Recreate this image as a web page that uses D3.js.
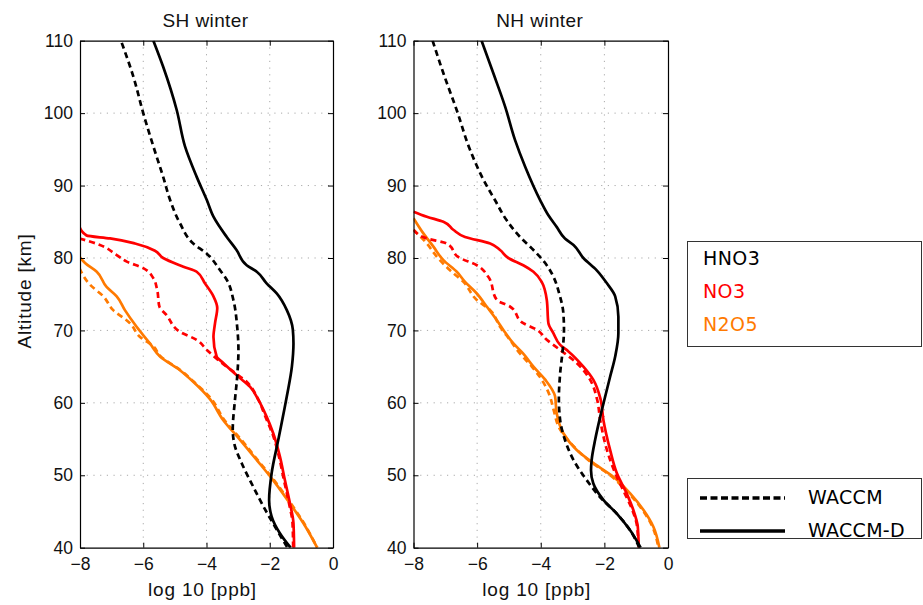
<!DOCTYPE html>
<html><head><meta charset="utf-8">
<script src="https://cdn.jsdelivr.net/npm/d3@7"></script>
<style>body{margin:0;background:#fff}svg{display:block}</style>
</head><body>
<svg id="c" width="923" height="605"></svg>
<script>
// ---- data ----
const panels = ["SH winter", "NH winter"];
const species = ["HNO3", "NO3", "N2O5"];
const speciesColors = ["#000000", "#ff0000", "#ff7a00"];
const models = ["WACCM", "WACCM-D"];
const altTicks = [40, 50, 60, 70, 80, 90, 100, 110];
const xTicks = [-8, -6, -4, -2, 0];

// [altitude km, log10 ppb]
const shHNO3_waccm = [[109.7,-6.68],[105,-6.31],[100,-6.0],[95.4,-5.68],[91.2,-5.37],[88,-5.15],[84.8,-4.84],[82,-4.42],[80.6,-3.99],[78.3,-3.57],[77,-3.36],[74.2,-3.15],[70.5,-3.03],[67.3,-2.99],[63.6,-3.03],[60.4,-3.10],[56.3,-3.17],[54,-3.10],[51.7,-2.89],[48.4,-2.52],[45.7,-2.20],[42.5,-1.78],[40,-1.44]];
const shHNO3_waccmd = [[110,-5.68],[106.4,-5.37],[100.4,-4.94],[95.4,-4.68],[91.2,-4.31],[88,-3.99],[85.7,-3.78],[82.9,-3.36],[81.1,-3.05],[79,-2.73],[78.1,-2.41],[76.5,-2.10],[75.1,-1.78],[72.8,-1.46],[70.1,-1.27],[68.2,-1.25],[65,-1.30],[60.9,-1.46],[54.9,-1.73],[50.3,-1.94],[46.6,-2.02],[44.3,-1.94],[42,-1.68],[40,-1.34]];
const shNO3_waccm = [[82.7,-8.02],[81.8,-7.37],[80.4,-6.84],[79.5,-6.52],[78.6,-6.0],[77.2,-5.68],[75.6,-5.56],[73.3,-5.49],[72.1,-5.26],[69.8,-4.84],[68.7,-4.31],[67.3,-3.99],[65.7,-3.57],[64.3,-3.15],[62.9,-2.73],[60.8,-2.40],[58,-2.13],[55.8,-1.92],[52.6,-1.71],[49.3,-1.55],[46.1,-1.39],[43.4,-1.28],[40,-1.26]];
const shNO3_waccmd = [[84.3,-8.02],[83.1,-7.79],[82.7,-7.05],[82,-6.26],[81,-5.63],[80,-5.37],[78.8,-4.73],[78.1,-4.31],[76.5,-4.05],[74.7,-3.78],[73.1,-3.66],[71,-3.73],[69.1,-3.78],[66.4,-3.68],[65.5,-3.47],[63.6,-2.99],[62.2,-2.62],[60.4,-2.36],[58.1,-2.10],[55.8,-1.89],[52.6,-1.68],[49.3,-1.52],[46.1,-1.36],[43.4,-1.25],[40,-1.23]];
const shN2O5_waccm = [[78.6,-8.02],[76.3,-7.68],[74.7,-7.26],[72.8,-6.95],[71,-6.42],[69.1,-6.10],[67.8,-5.68],[66.4,-5.45],[64.5,-4.82],[62.9,-4.40],[60.6,-3.86],[57.6,-3.43],[54.9,-2.90],[52.1,-2.38],[49.3,-1.86],[46.1,-1.33],[43.4,-0.92],[40,-0.50]];
const shN2O5_waccmd = [[80.2,-8.02],[79.3,-7.84],[78.1,-7.47],[76,-7.16],[74.7,-6.84],[72.8,-6.58],[70.5,-6.21],[68.2,-5.79],[66.4,-5.47],[64.5,-4.84],[62.9,-4.42],[60.5,-3.89],[57.6,-3.47],[54.9,-2.94],[52.1,-2.41],[49.3,-1.89],[46.1,-1.36],[43.4,-0.94],[40,-0.50]];

const nhHNO3_waccm = [[110,-7.40],[105.5,-7.06],[100.4,-6.64],[94.9,-6.22],[90.8,-5.80],[88,-5.44],[85.2,-5.07],[82.9,-4.65],[81.1,-4.23],[79.3,-3.86],[77.4,-3.60],[75.1,-3.42],[72.4,-3.29],[70.1,-3.27],[67.3,-3.31],[64.1,-3.39],[60.5,-3.43],[57.6,-3.39],[54.9,-3.24],[52.1,-2.97],[49.3,-2.55],[47,-2.14],[44.7,-1.61],[42.4,-1.19],[40,-0.90]];
const nhHNO3_waccmd = [[110,-5.86],[105.5,-5.49],[100.9,-5.12],[96.3,-4.81],[92.6,-4.49],[88,-4.02],[85.9,-3.76],[84.3,-3.50],[82.7,-3.24],[81.8,-2.97],[80,-2.66],[78.3,-2.24],[76.5,-1.92],[74.7,-1.66],[71.9,-1.56],[69.6,-1.56],[66.4,-1.66],[63.6,-1.82],[60.6,-1.99],[58.1,-2.13],[54.9,-2.29],[52.1,-2.40],[50.7,-2.42],[48.9,-2.35],[46.6,-2.03],[44.7,-1.61],[42.4,-1.19],[40,-0.86]];
const nhNO3_waccm = [[83.9,-8.0],[82.7,-7.58],[82,-6.96],[80,-6.54],[79,-6.01],[77.4,-5.65],[74.2,-5.38],[73.3,-4.97],[71,-4.55],[70.1,-4.13],[68.7,-3.81],[67.3,-3.39],[65.5,-2.87],[63.2,-2.45],[60.5,-2.23],[57.6,-2.13],[53.5,-1.92],[50.3,-1.66],[47.5,-1.36],[45.2,-1.12],[42.9,-0.97],[40,-0.93]];
const nhNO3_waccmd = [[86.4,-8.0],[85.7,-7.58],[85,-7.06],[83.9,-6.75],[82.9,-6.38],[82,-5.59],[81.1,-5.28],[80,-5.02],[79,-4.55],[78.1,-4.23],[76.7,-3.97],[74.2,-3.81],[71,-3.76],[69.6,-3.60],[68,-3.39],[67.1,-3.13],[65,-2.66],[63.2,-2.35],[60.5,-2.12],[57.6,-2.03],[53.5,-1.82],[50.3,-1.61],[47.5,-1.30],[45.2,-1.09],[42.9,-0.95],[40,-0.92]];
const nhN2O5_waccm = [[83.9,-8.0],[82,-7.58],[80.2,-7.27],[78.3,-6.85],[76.7,-6.43],[74.2,-6.01],[72.8,-5.59],[70.5,-5.28],[68.7,-4.97],[66.8,-4.65],[65,-4.28],[63.2,-3.97],[60.9,-3.71],[59.1,-3.60],[56.3,-3.39],[54,-2.97],[51.9,-2.45],[50,-1.82],[47.5,-1.23],[45.2,-0.80],[42.9,-0.49],[40,-0.30]];
const nhN2O5_waccmd = [[85.5,-8.0],[83.4,-7.69],[81.6,-7.38],[79.7,-7.06],[78.1,-6.64],[76.7,-6.38],[75.1,-6.01],[73.3,-5.70],[71.4,-5.38],[70.1,-5.18],[68.2,-4.86],[66.8,-4.55],[65,-4.23],[63.2,-3.86],[60.9,-3.55],[58.6,-3.50],[55.8,-3.29],[53.5,-2.87],[51.7,-2.35],[49.8,-1.72],[47.5,-1.19],[45.2,-0.77],[42.9,-0.46],[40,-0.27]];

const panelSeries = [
  [[shHNO3_waccm, shHNO3_waccmd], [shNO3_waccm, shNO3_waccmd], [shN2O5_waccm, shN2O5_waccmd]],
  [[nhHNO3_waccm, nhHNO3_waccmd], [nhNO3_waccm, nhNO3_waccmd], [nhN2O5_waccm, nhN2O5_waccmd]]
];

// ---- layout ----
const svg = d3.select("#c");
const axFont = "'Liberation Sans', Arial, Helvetica, sans-serif";
const legFont = "'DejaVu Sans', sans-serif";
const yTop = 40.7, yBot = 547.7;
const panelX = [[80, 333], [413.5, 668]];
const y = d3.scaleLinear().domain([40, 110]).range([yBot, yTop]);

panels.forEach((title, pi) => {
  const x = d3.scaleLinear().domain([-8, 0]).range(panelX[pi]);
  const g = svg.append("g");
  const cid = "clip" + pi;
  svg.append("clipPath").attr("id", cid).append("rect")
    .attr("x", panelX[pi][0]).attr("y", yTop)
    .attr("width", panelX[pi][1] - panelX[pi][0]).attr("height", yBot - yTop);

  // grid
  const grid = g.append("g").attr("stroke", "#aaaaaa").attr("stroke-width", 1).attr("stroke-dasharray", "1.2,5.5");
  xTicks.slice(1, -1).forEach(t => grid.append("line").attr("x1", x(t)).attr("x2", x(t)).attr("y1", yTop).attr("y2", yBot));
  altTicks.slice(1, -1).forEach(t => grid.append("line").attr("x1", panelX[pi][0]).attr("x2", panelX[pi][1]).attr("y1", y(t)).attr("y2", y(t)));

  // lines
  const line = d3.line().x(d => x(d[1])).y(d => y(d[0])).curve(d3.curveMonotoneY);
  const lg = g.append("g").attr("clip-path", `url(#${cid})`);
  const order = [2, 1, 0];
  order.forEach(si => {
    [0, 1].forEach(mi => {
      lg.append("path").datum(panelSeries[pi][si][mi])
        .attr("d", line).attr("fill", "none")
        .attr("stroke", speciesColors[si]).attr("stroke-width", 2.7)
        .attr("stroke-dasharray", mi === 0 ? "6,4" : null)
        .attr("stroke-linejoin", "round");
    });
  });

  // axes (ticks inward on all sides)
  const tl = 5;
  const axB = d3.axisBottom(x).tickValues(xTicks).tickSizeInner(-tl).tickSizeOuter(0).tickPadding(10);
  const axT = d3.axisTop(x).tickValues(xTicks).tickSizeInner(-tl).tickSizeOuter(0).tickFormat("");
  const axL = d3.axisLeft(y).tickValues(altTicks).tickSizeInner(-tl).tickSizeOuter(0).tickPadding(7);
  const axR = d3.axisRight(y).tickValues(altTicks).tickSizeInner(-tl).tickSizeOuter(0).tickFormat("");
  const styleAx = s => { s.selectAll("path").attr("stroke", "#000"); s.selectAll("line").attr("stroke", "#000");
    s.selectAll("text").attr("font-family", axFont).attr("font-size", 17.5).attr("fill", "#111"); };
  g.append("g").attr("transform", `translate(0,${yBot})`).call(axB).call(styleAx);
  g.append("g").attr("transform", `translate(0,${yTop})`).call(axT).call(styleAx);
  g.append("g").attr("transform", `translate(${panelX[pi][0]},0)`).call(axL).call(styleAx);
  g.append("g").attr("transform", `translate(${panelX[pi][1]},0)`).call(axR).call(styleAx);
  g.selectAll(".domain").attr("stroke-width", 1.2);

  const cx = (panelX[pi][0] + panelX[pi][1]) / 2;
  g.append("text").attr("x", cx - 1).attr("y", 26.5).attr("text-anchor", "middle")
    .attr("font-family", axFont).attr("font-size", 19).attr("letter-spacing", 0.4).attr("fill", "#111").text(title);
  g.append("text").attr("x", cx - 4).attr("y", 596).attr("text-anchor", "middle")
    .attr("font-family", axFont).attr("font-size", 19).attr("letter-spacing", 0.8).attr("fill", "#111").text("log 10 [ppb]");
});

svg.append("text").attr("transform", `translate(31,291) rotate(-90)`).attr("text-anchor", "middle")
  .attr("font-family", axFont).attr("font-size", 19).attr("letter-spacing", 0.8).attr("fill", "#111").text("Altitude [km]");

// legend 1: species
svg.append("rect").attr("x", 687.5).attr("y", 241.5).attr("width", 234).attr("height", 105)
  .attr("fill", "#fff").attr("stroke", "#333").attr("stroke-width", 1);
const speciesBaselines = [265, 298, 331];
species.forEach((s, i) => {
  svg.append("text").attr("x", 703).attr("y", speciesBaselines[i]).attr("font-family", legFont)
    .attr("font-size", 19).attr("letter-spacing", 0.4).attr("fill", speciesColors[i]).text(s);
});

// legend 2: models
svg.append("rect").attr("x", 687.5).attr("y", 478.5).attr("width", 234).attr("height", 60)
  .attr("fill", "#fff").attr("stroke", "#333").attr("stroke-width", 1);
const modelY = [498, 531];
models.forEach((m, i) => {
  svg.append("line").attr("x1", 700).attr("x2", 785).attr("y1", modelY[i]).attr("y2", modelY[i])
    .attr("stroke", "#000").attr("stroke-width", 3.4).attr("stroke-dasharray", i === 0 ? "7,3.5" : null);
  svg.append("text").attr("x", 808).attr("y", modelY[i] + 5.5).attr("font-family", legFont)
    .attr("font-size", 19).attr("letter-spacing", 0.3).attr("fill", "#000").text(m);
});
</script>
</body></html>
